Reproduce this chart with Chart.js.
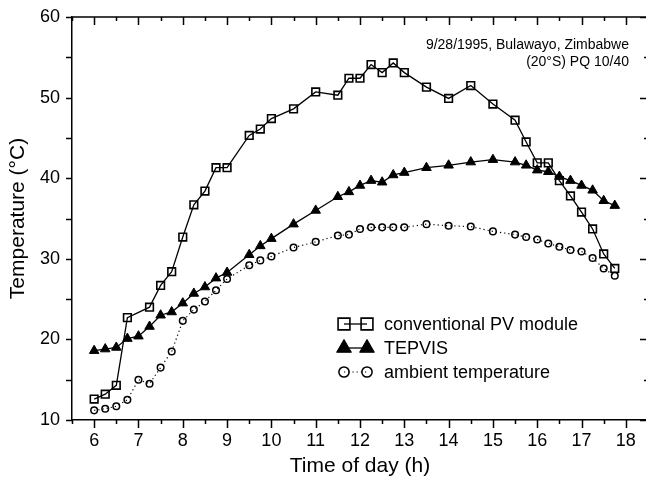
<!DOCTYPE html>
<html>
<head>
<meta charset="utf-8">
<script src="https://cdn.jsdelivr.net/npm/chart.js@4"></script>
<style>
  html, body { margin: 0; padding: 0; background: #fff; overflow: hidden; }
  #wrap { width: 660px; height: 479px; }
</style>
</head>
<body>
<div id="wrap"><canvas id="myChart" width="660" height="479"></canvas></div>
<script>
// Time of day (h) for each series
const timesPV = [6, 6.25, 6.5, 6.75, 7.25, 7.5, 7.75, 8, 8.25, 8.5, 8.75, 9, 9.5, 9.75, 10, 10.5, 11, 11.5, 11.75, 12,
    12.25, 12.5, 12.75, 13, 13.5, 14, 14.5, 15, 15.5, 15.75, 16, 16.25, 16.5, 16.75, 17, 17.25, 17.5, 17.75];
const timesOther = [6, 6.25, 6.5, 6.75, 7, 7.25, 7.5, 7.75, 8, 8.25, 8.5, 8.75, 9, 9.5, 9.75, 10, 10.5, 11, 11.5, 11.75, 12,
    12.25, 12.5, 12.75, 13, 13.5, 14, 14.5, 15, 15.5, 15.75, 16, 16.25, 16.5, 16.75, 17, 17.25, 17.5, 17.75];

// Temperatures (°C)
const pvTemps = [12.6, 13.2, 14.3, 22.7, 24.0, 26.7, 28.4, 32.7, 36.7, 38.4, 41.3, 41.3, 45.3, 46.1, 47.4, 48.6, 50.7, 50.3, 52.4, 52.4,
    54.1, 53.1, 54.3, 53.1, 51.3, 49.9, 51.5, 49.2, 47.2, 44.5, 41.9, 41.9, 39.7, 37.8, 35.8, 33.7, 30.6, 28.8];
const tepvisTemps = [18.6, 18.8, 19.0, 20.1, 20.4, 21.6, 23.0, 23.4, 24.5, 25.7, 26.5, 27.6, 28.3, 30.5, 31.6, 32.5, 34.3, 36.0, 37.7, 38.3, 39.1,
    39.7, 39.5, 40.4, 40.7, 41.3, 41.6, 42.0, 42.3, 42.0, 41.6, 41.0, 40.8, 40.2, 39.7, 39.1, 38.5, 37.2, 36.6];
const ambientTemps = [11.2, 11.4, 11.7, 12.5, 15.0, 14.5, 16.5, 18.5, 22.3, 23.7, 24.7, 26.1, 27.5, 29.2, 29.8, 30.3, 31.4, 32.1, 32.9, 33.0, 33.7,
    33.9, 33.9, 33.9, 33.9, 34.3, 34.1, 34.0, 33.4, 33.0, 32.7, 32.4, 31.9, 31.5, 31.1, 30.9, 30.1, 28.8, 27.9];

const seriesLabels = ['conventional PV module', 'TEPVIS', 'ambient temperature'];
const noteLines = ['9/28/1995, Bulawayo, Zimbabwe', '(20°S) PQ 10/40'];

const FONT = 'Arial, "Liberation Sans", sans-serif';

function toPoints(xs, ys) {
    return xs.map((x, i) => ({ x: x, y: ys[i] }));
}

// Inward/outward tick marks on all four sides plus the top frame line
const frameTicks = {
    id: 'frameTicks',
    afterDraw(chart) {
        const ctx = chart.ctx;
        const area = chart.chartArea;
        const xs = chart.scales.x;
        const ys = chart.scales.y;
        ctx.save();
        ctx.strokeStyle = '#000';
        ctx.lineWidth = 1.5;
        ctx.beginPath();
        ctx.moveTo(area.left, area.top);
        ctx.lineTo(area.right, area.top);
        xs.ticks.forEach(t => {
            const px = Math.round(xs.getPixelForValue(t.value)) + 0.5;
            const len = Number.isInteger(t.value) ? 8 : 4;
            ctx.moveTo(px, area.bottom);
            ctx.lineTo(px, area.bottom + len);
            ctx.moveTo(px, area.top);
            ctx.lineTo(px, area.top + len);
        });
        ys.ticks.forEach(t => {
            const py = Math.round(ys.getPixelForValue(t.value)) + 0.5;
            const major = t.value % 10 === 0;
            ctx.moveTo(area.left - 6, py);
            ctx.lineTo(area.left, py);
            ctx.moveTo(area.right, py);
            ctx.lineTo(area.right - (major ? 8 : 4), py);
        });
        ctx.stroke();
        ctx.restore();
    }
};

// Legend box and site note drawn inside the plot
const legendScale = 1.55;
const innerText = {
    id: 'innerText',
    afterDraw(chart) {
        const ctx = chart.ctx;
        ctx.save();
        ctx.fillStyle = '#000';
        ctx.font = '14px ' + FONT;
        ctx.textAlign = 'right';
        ctx.textBaseline = 'middle';
        ctx.fillText(noteLines[0], 629, 45);
        ctx.fillText(noteLines[1], 629, 62);

        const rows = [324, 348, 372];
        chart.data.datasets.forEach((ds, i) => {
            const y = rows[i];
            ctx.strokeStyle = '#000';
            ctx.lineWidth = ds.borderWidth;
            ctx.setLineDash(ds.borderDash || []);
            ctx.beginPath();
            ctx.moveTo(344, y);
            ctx.lineTo(367, y);
            ctx.stroke();
            ctx.setLineDash([]);
            ctx.fillStyle = ds.pointBackgroundColor;
            ctx.lineWidth = ds.pointBorderWidth;
            [344, 367].forEach(px => {
                Chart.helpers.drawPoint(ctx, {
                    pointStyle: ds.pointStyle,
                    radius: ds.pointRadius * legendScale,
                    rotation: 0,
                    borderWidth: ds.pointBorderWidth
                }, px, y);
            });
            ctx.fillStyle = '#000';
            ctx.font = '18px ' + FONT;
            ctx.textAlign = 'left';
            ctx.fillText(ds.label, 384, y + 1);
        });
        ctx.restore();
    }
};

const ctx = document.getElementById('myChart').getContext('2d');

new Chart(ctx, {
    type: 'line',
    data: {
        datasets: [
            {
                label: seriesLabels[0],
                data: toPoints(timesPV, pvTemps),
                borderColor: '#000',
                borderWidth: 1.3,
                pointStyle: 'rect',
                pointRadius: 5.4,
                pointBorderWidth: 1.6,
                pointBorderColor: '#000',
                pointBackgroundColor: 'rgba(0,0,0,0)'
            },
            {
                label: seriesLabels[1],
                data: toPoints(timesOther, tepvisTemps),
                borderColor: '#000',
                borderWidth: 1.3,
                pointStyle: 'triangle',
                pointRadius: 5.5,
                pointBorderWidth: 1,
                pointBorderColor: '#000',
                pointBackgroundColor: '#000'
            },
            {
                label: seriesLabels[2],
                data: toPoints(timesOther, ambientTemps),
                borderColor: '#000',
                borderWidth: 1.2,
                borderDash: [1.2, 3],
                pointStyle: 'circle',
                pointRadius: 3.3,
                pointBorderWidth: 1.5,
                pointBorderColor: '#000',
                pointBackgroundColor: 'rgba(0,0,0,0)'
            }
        ]
    },
    options: {
        responsive: false,
        animation: false,
        devicePixelRatio: 1,
        layout: { padding: { top: 17, right: 12, left: 0, bottom: 0 } },
        plugins: {
            legend: { display: false },
            tooltip: { enabled: false }
        },
        scales: {
            x: {
                type: 'linear',
                min: 5.5,
                max: 18.5,
                afterFit: s => { s.height = 59; },
                grid: { display: false, drawTicks: true, tickLength: 8 },
                border: { display: true, color: '#000', width: 1.5 },
                ticks: {
                    stepSize: 0.5,
                    autoSkip: false,
                    maxRotation: 0,
                    padding: 2,
                    color: '#000',
                    font: { family: FONT, size: 18 },
                    callback: v => Number.isInteger(v) ? String(v) : ''
                },
                title: {
                    display: true,
                    text: 'Time of day (h)',
                    color: '#000',
                    font: { family: FONT, size: 21 },
                    padding: { top: 0, bottom: 0 }
                }
            },
            y: {
                min: 10,
                max: 60,
                afterFit: s => { s.width = 72; },
                grid: { display: false, drawTicks: true, tickLength: 6 },
                border: { display: true, color: '#000', width: 1.5 },
                ticks: {
                    stepSize: 5,
                    autoSkip: false,
                    padding: 6,
                    color: '#000',
                    font: { family: FONT, size: 18 },
                    callback: v => v % 10 === 0 ? String(v) : ''
                },
                title: {
                    display: true,
                    text: 'Temperature (°C)',
                    color: '#000',
                    font: { family: FONT, size: 21 },
                    padding: { top: 6, bottom: 0 }
                }
            }
        }
    },
    plugins: [frameTicks, innerText]
});
</script>
</body>
</html>
